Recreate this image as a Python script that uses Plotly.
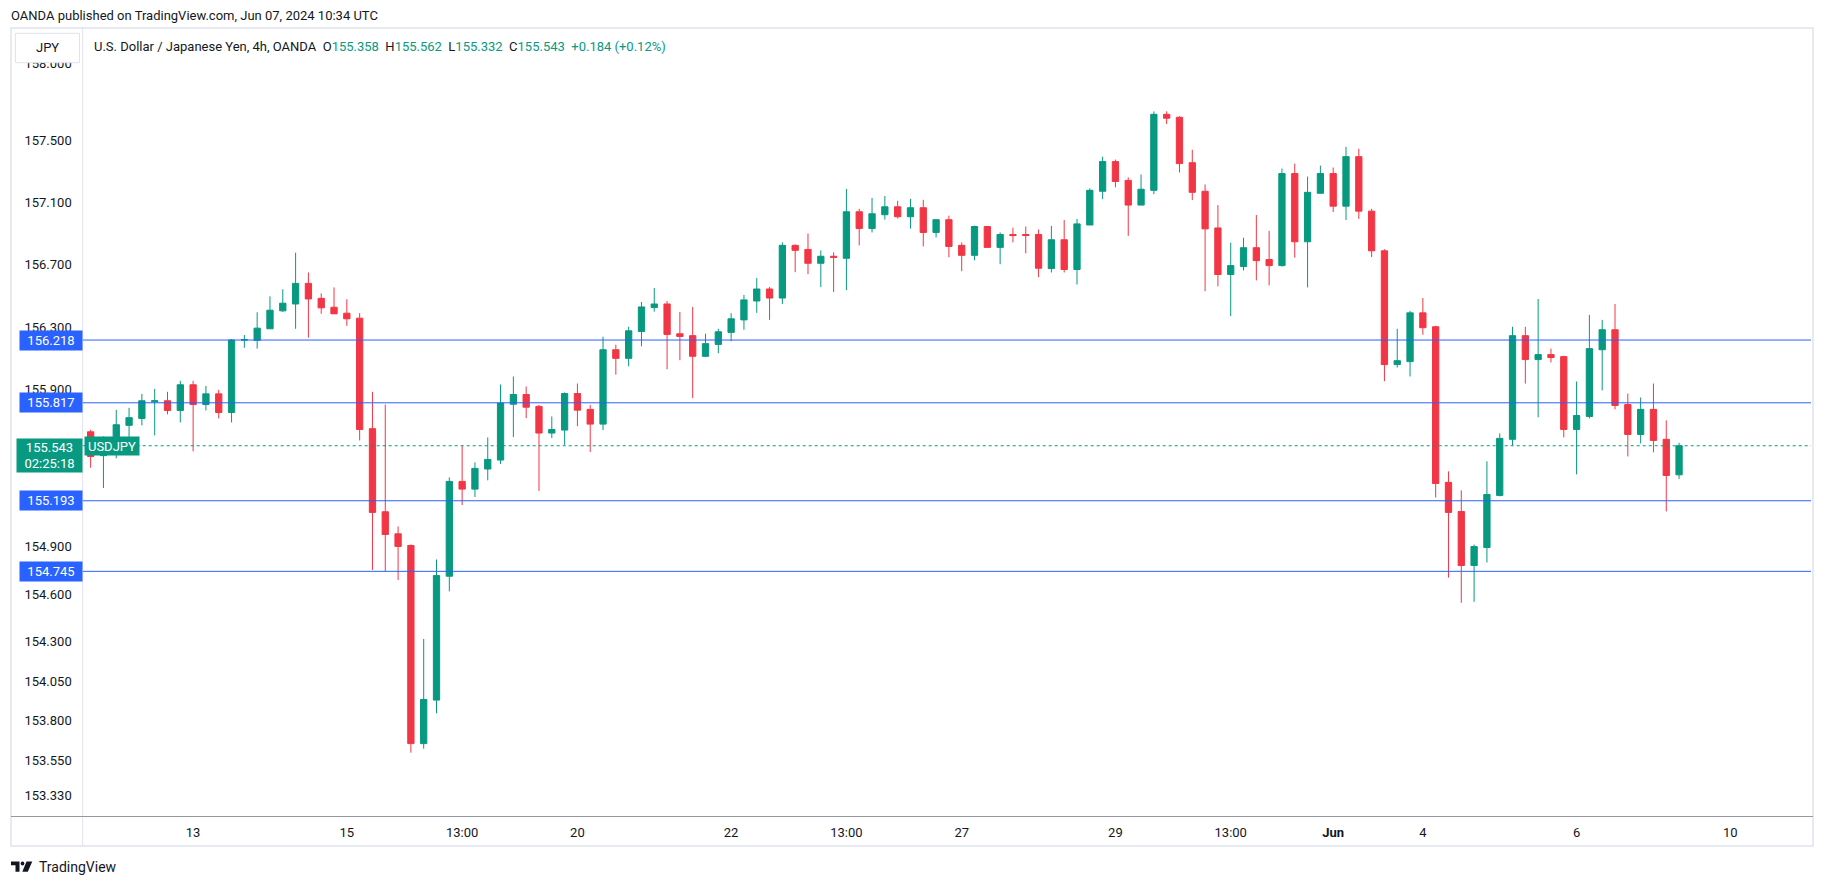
import math
import plotly.graph_objects as go

# ---------------- data ----------------
opens = [
    155.632, 155.480, 155.539, 155.673, 155.717, 155.823, 155.830, 155.768, 155.932, 155.806,
    155.874, 155.755, 156.218, 156.216, 156.290, 156.405, 156.449, 156.581, 156.485, 156.428,
    156.390, 156.358, 155.652, 155.123, 154.983, 154.909, 153.657, 153.931, 154.714, 155.316,
    155.267, 155.395, 155.452, 155.808, 155.870, 155.794, 155.624, 155.643, 155.876, 155.775,
    155.681, 156.156, 156.101, 156.273, 156.426, 156.449, 156.258, 156.246, 156.114, 156.190,
    156.267, 156.347, 156.468, 156.545, 156.487, 156.825, 156.799, 156.710, 156.755, 156.742,
    157.041, 156.933, 157.022, 157.073, 157.009, 157.067, 156.908, 156.990, 156.825, 156.761,
    156.946, 156.812, 156.895, 156.895, 156.895, 156.676, 156.861, 156.670, 156.956, 157.173,
    157.364, 157.243, 157.084, 157.179, 157.669, 157.650, 157.357, 157.173, 156.937, 156.638,
    156.689, 156.810, 156.734, 156.695, 157.287, 156.848, 157.160, 157.287, 157.077, 157.396,
    157.045, 156.790, 156.061, 156.080, 156.392, 156.303, 155.310, 155.125, 154.782, 154.896,
    155.227, 155.584, 156.246, 156.093, 156.125, 156.112, 155.647, 155.730, 156.156, 156.284,
    155.806, 155.615, 155.775, 155.584, 155.358]
highs = [
    155.645, 155.603, 155.772, 155.785, 155.874, 155.906, 155.887, 155.957, 155.957, 155.925,
    155.900, 156.224, 156.250, 156.396, 156.498, 156.543, 156.778, 156.651, 156.517, 156.555,
    156.479, 156.390, 155.887, 155.806, 155.030, 154.915, 154.317, 154.820, 155.342, 155.545,
    155.437, 155.596, 155.934, 155.985, 155.921, 155.804, 155.730, 155.883, 155.940, 155.804,
    156.239, 156.188, 156.303, 156.462, 156.551, 156.468, 156.398, 156.430, 156.258, 156.290,
    156.390, 156.507, 156.615, 156.558, 156.844, 156.831, 156.901, 156.793, 156.780, 157.188,
    157.060, 157.130, 157.143, 157.111, 157.124, 157.118, 156.990, 157.016, 156.844, 156.952,
    156.946, 156.908, 156.939, 156.946, 156.927, 156.950, 156.988, 156.995, 157.192, 157.396,
    157.377, 157.262, 157.281, 157.688, 157.688, 157.657, 157.440, 157.217, 157.084, 156.842,
    156.874, 157.020, 156.918, 157.319, 157.351, 157.268, 157.338, 157.326, 157.459, 157.447,
    157.060, 156.800, 156.290, 156.405, 156.487, 156.309, 155.380, 155.259, 154.915, 155.444,
    155.622, 156.303, 156.303, 156.481, 156.163, 156.118, 155.953, 156.379, 156.347, 156.449,
    155.876, 155.851, 155.940, 155.705, 155.562]
lows = [
    155.403, 155.274, 155.463, 155.592, 155.673, 155.609, 155.743, 155.692, 155.507, 155.768,
    155.717, 155.692, 156.169, 156.163, 156.290, 156.398, 156.290, 156.233, 156.386, 156.386,
    156.309, 155.577, 154.754, 154.745, 154.690, 153.600, 153.625, 153.848, 154.618, 155.166,
    155.217, 155.323, 155.427, 155.598, 155.719, 155.255, 155.592, 155.548, 155.668, 155.503,
    155.643, 155.997, 156.050, 156.178, 156.400, 156.031, 156.089, 155.847, 156.108, 156.133,
    156.210, 156.284, 156.392, 156.347, 156.449, 156.653, 156.640, 156.557, 156.526, 156.538,
    156.825, 156.908, 156.990, 156.997, 156.933, 156.818, 156.876, 156.748, 156.659, 156.729,
    156.812, 156.704, 156.844, 156.774, 156.621, 156.651, 156.651, 156.574, 156.956, 157.122,
    157.198, 156.886, 157.084, 157.154, 157.606, 157.294, 157.116, 156.530, 156.562, 156.371,
    156.664, 156.600, 156.568, 156.689, 156.746, 156.555, 157.160, 157.039, 156.988, 156.995,
    156.750, 155.955, 156.042, 155.985, 156.252, 155.214, 154.705, 154.546, 154.552, 154.801,
    155.221, 155.545, 155.940, 155.724, 156.074, 155.596, 155.361, 155.717, 155.896, 155.775,
    155.475, 155.558, 155.501, 155.125, 155.332]
closes = [
    155.475, 155.539, 155.677, 155.722, 155.830, 155.830, 155.768, 155.932, 155.806, 155.874,
    155.755, 156.218, 156.220, 156.294, 156.409, 156.454, 156.581, 156.481, 156.424, 156.386,
    156.354, 155.647, 155.119, 154.979, 154.903, 153.657, 153.935, 154.718, 155.316, 155.267,
    155.399, 155.456, 155.815, 155.870, 155.789, 155.624, 155.647, 155.876, 155.770, 155.681,
    156.156, 156.101, 156.277, 156.430, 156.449, 156.254, 156.241, 156.114, 156.195, 156.271,
    156.354, 156.475, 156.545, 156.487, 156.825, 156.793, 156.710, 156.755, 156.748, 157.041,
    156.933, 157.028, 157.073, 157.009, 157.067, 156.908, 156.990, 156.818, 156.761, 156.946,
    156.812, 156.895, 156.888, 156.888, 156.678, 156.861, 156.670, 156.963, 157.179, 157.364,
    157.236, 157.084, 157.186, 157.669, 157.644, 157.351, 157.166, 156.931, 156.638, 156.695,
    156.810, 156.727, 156.695, 157.287, 156.848, 157.166, 157.287, 157.077, 157.396, 157.045,
    156.790, 156.061, 156.086, 156.392, 156.297, 155.303, 155.119, 154.782, 154.902, 155.233,
    155.590, 156.246, 156.093, 156.125, 156.106, 155.647, 155.736, 156.163, 156.284, 155.800,
    155.615, 155.775, 155.577, 155.354, 155.543]

# candle index of each time-axis label (4h bars, first bar = May 9 17:00 UTC)
x_tick_pos = [8, 20, 29, 38, 50, 59, 68, 80, 89, 97, 104, 116, 128]
x_tick_text = ["13", "15", "13:00", "20", "22", "13:00", "27", "29", "13:00", "<b>Jun</b>", "4", "6", "10"]

y_tick_vals = [153.33, 153.55, 153.80, 154.05, 154.30, 154.60, 154.90,
               155.90, 156.30, 156.70, 157.10, 157.50, 158.00]
y_tick_text = ["%.3f" % v for v in y_tick_vals]

level_prices = [156.218, 155.817, 155.193, 154.745]
last_price = 155.543
countdown = "02:25:18"

UP = "#089981"
DOWN = "#F23645"
BLUE = "#2962FF"
TXT = "#131722"
FONT = "Roboto"

W, H = 1825, 886


def fx(p):
    return p / W


def fy(p):
    return 1 - p / H


X_RANGE = [-0.62, 134.3]
Y_RANGE = [math.log10(153.202), math.log10(158.221)]

idx = list(range(len(opens)))

fig = go.Figure()
fig.add_trace(go.Candlestick(
    x=idx, open=opens, high=highs, low=lows, close=closes,
    increasing=dict(line=dict(color=UP, width=1), fillcolor=UP),
    decreasing=dict(line=dict(color=DOWN, width=1), fillcolor=DOWN),
    whiskerwidth=0, hoverinfo="skip", showlegend=False,
))

for p in level_prices:
    fig.add_trace(go.Scatter(x=X_RANGE, y=[p, p], mode="lines",
                             line=dict(color=BLUE, width=1),
                             hoverinfo="skip", showlegend=False))
fig.add_trace(go.Scatter(x=X_RANGE, y=[last_price, last_price], mode="lines",
                         line=dict(color=UP, width=1, dash="dot"),
                         hoverinfo="skip", showlegend=False))

shapes = []
# chart frame
shapes.append(dict(type="rect", xref="paper", yref="paper",
                   x0=fx(11), x1=fx(1813), y0=fy(846), y1=fy(28),
                   line=dict(color="#e0e3eb", width=1.5), fillcolor="rgba(0,0,0,0)", layer="below"))
# price scale divider
shapes.append(dict(type="line", xref="paper", yref="paper",
                   x0=fx(82.7), x1=fx(82.7), y0=fy(846), y1=fy(28),
                   line=dict(color="#e0e3eb", width=1), layer="below"))
# time scale top line
shapes.append(dict(type="line", xref="paper", yref="paper",
                   x0=fx(11), x1=fx(1813), y0=fy(816.5), y1=fy(816.5),
                   line=dict(color="#9598a1", width=1), layer="above"))
# JPY box
shapes.append(dict(type="rect", xref="paper", yref="paper",
                   x0=fx(15.5), x1=fx(79.5), y0=fy(62.7), y1=fy(33.3),
                   line=dict(color="#e0e3eb", width=1), fillcolor="white", layer="above"))
# TradingView logo (approximation)
shapes.append(dict(type="path", xref="paper", yref="paper",
                   path="M %f,%f L %f,%f L %f,%f L %f,%f L %f,%f L %f,%f Z" % (
                       fx(11), fy(861.5), fx(19.5), fy(861.5), fx(19.5), fy(871.7),
                       fx(15.5), fy(871.7), fx(15.5), fy(865.3), fx(11), fy(865.3)),
                   fillcolor=TXT, line=dict(width=0), layer="above"))
shapes.append(dict(type="circle", xref="paper", yref="paper",
                   x0=fx(20.6), x1=fx(24.4), y0=fy(865.4), y1=fy(861.6),
                   fillcolor=TXT, line=dict(width=0), layer="above"))
shapes.append(dict(type="path", xref="paper", yref="paper",
                   path="M %f,%f L %f,%f L %f,%f L %f,%f Z" % (
                       fx(26.5), fy(861.5), fx(32.3), fy(861.5),
                       fx(27.8), fy(871.7), fx(22.3), fy(871.7)),
                   fillcolor=TXT, line=dict(width=0), layer="above"))

annotations = []
annotations.append(dict(xref="paper", yref="paper", x=fx(9), y=fy(15.5),
                        xanchor="left", yanchor="middle", showarrow=False,
                        text="OANDA published on TradingView.com, Jun 07, 2024 10:34 UTC",
                        font=dict(family=FONT, size=13, color=TXT)))
nb = "\u00a0"
g = '<span style="color:%s">%s</span>'
legend_txt = ("U.S. Dollar / Japanese Yen, 4h, OANDA" + nb * 2 +
              "O" + g % (UP, "%.3f" % opens[-1]) + nb * 2 +
              "H" + g % (UP, "%.3f" % highs[-1]) + nb * 2 +
              "L" + g % (UP, "%.3f" % lows[-1]) + nb * 2 +
              "C" + g % (UP, "%.3f" % closes[-1]) + nb * 2 +
              g % (UP, "+0.184 (+0.12%)"))
annotations.append(dict(xref="paper", yref="paper", x=fx(91.5), y=fy(47),
                        xanchor="left", yanchor="middle", showarrow=False,
                        text=legend_txt, font=dict(family=FONT, size=13, color=TXT)))
annotations.append(dict(xref="paper", yref="paper", x=fx(47.5), y=fy(48),
                        xanchor="center", yanchor="middle", showarrow=False,
                        text="JPY", font=dict(family=FONT, size=13, color=TXT)))
for p in level_prices:
    annotations.append(dict(xref="paper", yref="y", x=fx(82.7), y=math.log10(p),
                            xanchor="right", yanchor="middle", showarrow=False,
                            text="%.3f" % p, bgcolor=BLUE, width=58, height=15, borderpad=2,
                            font=dict(family=FONT, size=13, color="white")))
annotations.append(dict(xref="paper", yref="paper", x=fx(82.7), y=fy(437.7),
                        xanchor="right", yanchor="top", showarrow=False,
                        text="%.3f<br>%s" % (last_price, countdown), bgcolor=UP,
                        width=61, height=29, borderpad=2,
                        font=dict(family=FONT, size=13, color="white")))
annotations.append(dict(xref="paper", yref="y", x=fx(84.3), y=math.log10(last_price),
                        xanchor="left", yanchor="middle", showarrow=False,
                        text="USDJPY", bgcolor=UP, width=50, height=14, borderpad=2,
                        font=dict(family=FONT, size=13, color="white")))
annotations.append(dict(xref="paper", yref="paper", x=fx(36.5), y=fy(866.5),
                        xanchor="left", yanchor="middle", showarrow=False,
                        text="TradingView", font=dict(family=FONT, size=14, color=TXT)))

fig.update_layout(
    width=W, height=H,
    margin=dict(l=0, r=0, t=0, b=0),
    paper_bgcolor="white", plot_bgcolor="white",
    showlegend=False,
    hovermode=False,
    shapes=shapes, annotations=annotations,
    xaxis=dict(domain=[fx(82.7), fx(1811)], range=X_RANGE, type="linear",
               rangeslider=dict(visible=False), showgrid=False, zeroline=False,
               showline=False, tickmode="array", tickvals=x_tick_pos, ticktext=x_tick_text,
               ticks="", ticklabelstandoff=7,
               tickfont=dict(family=FONT, size=13, color=TXT)),
    yaxis=dict(domain=[fy(816), fy(29)], range=Y_RANGE, type="log",
               side="left", showgrid=False, zeroline=False, showline=False,
               tickmode="array", tickvals=y_tick_vals, ticktext=y_tick_text,
               ticks="", ticklabelstandoff=10,
               tickfont=dict(family=FONT, size=13, color=TXT)),
)

fig.write_html("out.html", config={"displayModeBar": False})
